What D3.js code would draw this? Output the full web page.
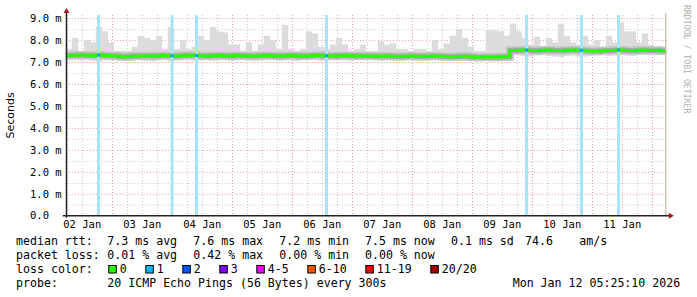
<!DOCTYPE html>
<html>
<head>
<meta charset="utf-8">
<script src="https://cdn.jsdelivr.net/npm/d3@7"></script>
<style>
  body { margin: 0; background: #fff; }
  text { font-family: "DejaVu Sans Mono", monospace; fill: #000; }
</style>
</head>
<body>
<div id="wrapper"></div>
<script>
// ---- data ----
const startTime = Date.UTC(2026, 0, 2, 5, 25, 10)
const endTime = Date.UTC(2026, 0, 12, 5, 25, 10)

// median rtt (ms), one value per 2.4h step
const medianRtt = [
  7.30,7.31,7.32,7.31,7.30,7.32,7.30,7.29,7.27,7.24,7.25,7.27,7.28,7.29,7.28,7.29,7.30,7.29,7.28,7.30,7.31,7.30,7.29,7.28,7.29,
  7.30,7.29,7.28,7.30,7.29,7.28,7.27,7.29,7.30,7.29,7.28,7.29,7.30,7.29,7.28,7.29,7.30,7.31,7.29,7.28,7.29,7.30,7.29,7.28,7.29,
  7.28,7.27,7.26,7.27,7.26,7.25,7.26,7.27,7.26,7.25,7.26,7.27,7.26,7.25,7.24,7.25,7.26,7.24,7.22,7.22,7.23,7.22,7.23,7.24,
  7.53,7.54,7.55,7.53,7.52,7.54,7.55,7.53,7.52,7.54,7.55,7.54,7.52,7.50,7.49,7.51,7.53,7.54,7.55,7.53,7.52,7.54,7.55,7.53,7.54,7.52
]
// top of the smoke (slowest ping), ms
const smokeHi = [
  7.6,8.1,7.5,8.0,7.9,8.6,8.4,7.9,7.5,7.5,7.5,7.7,8.2,8.1,8.0,8.2,7.6,8.6,7.6,8.0,7.6,7.7,8.2,8.0,8.6,
  8.4,8.35,7.8,7.8,7.5,7.9,7.5,7.8,8.2,8.0,7.6,8.7,7.6,7.5,7.6,8.4,8.3,7.7,7.6,7.8,8.1,7.8,7.5,7.6,7.8,
  7.5,7.5,7.95,7.8,7.85,7.6,7.6,7.5,7.6,7.6,7.5,8.0,7.6,7.85,8.2,8.5,8.1,7.7,7.5,7.5,8.45,8.45,8.4,8.2,
  8.75,8.4,8.1,7.8,8.15,7.7,8.1,7.9,8.75,8.2,7.9,7.8,8.2,7.8,8.0,7.7,8.2,7.9,8.8,8.4,8.4,7.9,8.3,7.8,7.7,7.7
]
// bottom of the smoke (fastest ping), ms
const smokeLo = [
  7.12,7.10,7.08,7.12,7.05,7.02,7.08,7.12,7.10,7.06,7.04,7.08,7.10,7.05,7.03,7.08,7.10,7.04,7.06,7.10,7.12,7.05,7.08,7.10,7.06,
  7.08,7.10,7.05,7.12,7.10,7.06,7.04,7.08,7.10,7.12,7.06,7.08,7.10,7.05,7.08,7.12,7.10,7.06,7.08,7.10,7.12,7.08,7.06,7.10,7.12,
  7.10,7.08,7.06,7.10,7.08,7.05,7.08,7.10,7.06,7.04,7.08,7.10,7.06,7.08,7.05,7.04,7.08,7.06,7.04,7.06,7.08,7.05,7.06,7.10,
  7.32,7.30,7.28,7.25,7.30,7.32,7.28,7.25,7.22,7.28,7.30,7.25,7.24,7.28,7.30,7.32,7.28,7.30,7.34,7.30,7.28,7.32,7.34,7.30,7.32,7.35
]
// moments with 1/20 packet loss
const lossTimes = [
  "2026-01-02T18:30Z","2026-01-03T23:55Z","2026-01-04T09:42Z","2026-01-06T13:42Z",
  "2026-01-09T21:42Z","2026-01-10T19:42Z","2026-01-11T10:30Z"
]

const yTicks = [0,1,2,3,4,5,6,7,8,9]
const rttLabel = "median rtt:"
const rttStats = ["7.3 ms avg","7.6 ms max","7.2 ms min","7.5 ms now","0.1 ms sd"]
const lossLabel = "packet loss:"
const lossStats = ["0.01 % avg","0.42 % max","0.00 % min","0.00 % now"]
const lossNames = ["0","1","2","3","4-5","6-10","11-19","20/20"]
const lossColors = ["#26ff00","#00b8ff","#0059ff","#7e00ff","#ff00ff","#ff5500","#ff0000","#a10000"]
const probeText = "20 ICMP Echo Pings (56 Bytes) every 300s"
const stampText = "Mon Jan 12 05:25:10 2026"

// ---- chart ----
const width = 697, height = 297
const plot = { left: 65.8, right: 665.8, top: 15, bottom: 215.7 }

const svg = d3.select("#wrapper").append("svg")
    .attr("width", width)
    .attr("height", height)

const xScale = d3.scaleUtc()
  .domain([startTime, endTime])
  .range([plot.left, plot.right])

const yScale = d3.scaleLinear()
  .domain([0, 9])
  .range([plot.bottom, plot.bottom - 9 * 21.95])

const stepMs = (endTime - startTime) / medianRtt.length
const binStart = i => new Date(startTime + i * stepMs)

// grid
const grid = svg.append("g")
const minorH = d3.range(0.5, 9.1, 0.5).filter(v => v % 1 !== 0)
grid.selectAll(".hmin").data(minorH).join("line")
    .attr("x1", plot.left).attr("x2", plot.right + 2)
    .attr("y1", d => yScale(d) + 0.5).attr("y2", d => yScale(d) + 0.5)
    .attr("stroke", "#c8c8c8").attr("stroke-dasharray", "1,2")
const hours = d3.utcHour.every(6).range(new Date(startTime), new Date(endTime))
grid.selectAll(".vmin").data(hours.filter(d => d.getUTCHours() !== 0)).join("line")
    .attr("x1", d => Math.round(xScale(d)) + 0.5).attr("x2", d => Math.round(xScale(d)) + 0.5)
    .attr("y1", plot.top).attr("y2", plot.bottom)
    .attr("stroke", "#c8c8c8").attr("stroke-dasharray", "1,2")
grid.selectAll(".hmaj").data(yTicks.slice(1)).join("line")
    .attr("x1", plot.left).attr("x2", plot.right + 2)
    .attr("y1", d => yScale(d) + 0.5).attr("y2", d => yScale(d) + 0.5)
    .attr("stroke", "#e59a9a").attr("stroke-dasharray", "1,2")
const days = d3.utcDay.range(new Date(startTime), new Date(endTime))
grid.selectAll(".vmaj").data(days).join("line")
    .attr("x1", d => Math.round(xScale(d)) + 0.5).attr("x2", d => Math.round(xScale(d)) + 0.5)
    .attr("y1", plot.top).attr("y2", plot.bottom)
    .attr("stroke", "#e59a9a").attr("stroke-dasharray", "1,2")

// smoke
svg.append("g").selectAll("rect").data(smokeHi).join("rect")
    .attr("x", (d, i) => xScale(binStart(i)))
    .attr("width", (d, i) => xScale(binStart(i + 1)) - xScale(binStart(i)) + 0.3)
    .attr("y", d => yScale(d))
    .attr("height", (d, i) => yScale(smokeLo[i]) - yScale(d))
    .attr("fill", "#dcdcdc")

const medianPts = medianRtt.map((v, i) => [binStart(i), v])
medianPts.push([new Date(endTime), medianRtt[medianRtt.length - 1]])
const line = d3.line()
    .x(d => xScale(d[0]))
    .y(d => yScale(d[1]))
    .curve(d3.curveStepAfter)

svg.append("path").attr("d", line(medianPts))
    .attr("fill", "none").attr("stroke", "#c6c6c6").attr("stroke-width", 8)
svg.append("path").attr("d", line(medianPts))
    .attr("fill", "none").attr("stroke", "#a8a8a8").attr("stroke-width", 5)

// loss bars
const lossDates = lossTimes.map(d => new Date(d))
svg.append("g").selectAll("rect").data(lossDates).join("rect")
    .attr("x", d => xScale(d) - 1.5)
    .attr("width", 3)
    .attr("y", plot.top)
    .attr("height", plot.bottom - plot.top)
    .attr("fill", "#a8e4f8")

// median line
svg.append("path").attr("d", line(medianPts))
    .attr("fill", "none").attr("stroke", lossColors[0]).attr("stroke-width", 3)

const medianAt = d => medianRtt[Math.min(medianRtt.length - 1, Math.floor((d - startTime) / stepMs))]
svg.append("g").selectAll("rect").data(lossDates).join("rect")
    .attr("x", d => xScale(d) - 1.5)
    .attr("width", 3)
    .attr("y", d => yScale(medianAt(d)) - 1.5)
    .attr("height", 3)
    .attr("fill", "#1a9cff")

// "now" rule
svg.append("line")
    .attr("x1", plot.right).attr("x2", plot.right)
    .attr("y1", plot.top - 2).attr("y2", plot.bottom)
    .attr("stroke", "#b8b088")

// axes
svg.append("line")
    .attr("x1", plot.left - 3).attr("x2", plot.right + 4)
    .attr("y1", plot.bottom).attr("y2", plot.bottom)
    .attr("stroke", "#222").attr("stroke-width", 1.5)
svg.append("line")
    .attr("x1", plot.left + 0.7).attr("x2", plot.left + 0.7)
    .attr("y1", plot.bottom + 2).attr("y2", 12)
    .attr("stroke", "#222").attr("stroke-width", 1.5)
svg.append("path")
    .attr("d", `M${plot.right + 3},${plot.bottom - 3}L${plot.right + 8},${plot.bottom}L${plot.right + 3},${plot.bottom + 3}Z`)
    .attr("fill", "#a01818")
svg.append("path")
    .attr("d", `M${plot.left - 2.3},13L${plot.left + 0.7},8L${plot.left + 3.7},13Z`)
    .attr("fill", "#a01818")

// y tick labels
svg.append("g").selectAll("text").data(yTicks).join("text")
    .attr("x", 30)
    .attr("y", d => yScale(d))
    .attr("dy", "0.36em")
    .style("font-size", "10.5px")
    .text(d => d === 0 ? "0.0" : d3.format(".1f")(d) + " m")

// x tick labels at noon
const noons = days.map(d => d3.utcHour.offset(d, -12)).concat([d3.utcHour.offset(days[days.length - 1], 12)])
svg.append("g").selectAll("text").data(noons.filter(d => d > startTime && d < endTime)).join("text")
    .attr("x", d => xScale(d))
    .attr("y", 228)
    .attr("text-anchor", "middle")
    .style("font-size", "10.5px")
    .text(d3.utcFormat("%d %b"))

// axis title
svg.append("text")
    .attr("transform", `translate(14, ${(plot.top + plot.bottom) / 2}) rotate(-90)`)
    .attr("text-anchor", "middle")
    .style("font-family", "DejaVu Sans")
    .style("font-size", "11px")
    .text("Seconds")

// watermark
svg.append("text")
    .attr("transform", "translate(684, 5) rotate(90)")
    .style("font-size", "8.2px")
    .style("fill", "#b0b0b0")
    .text("RRDTOOL / TOBI OETIKER")

// legend
const legend = svg.append("g").style("font-size", "11.6px")
const colX = [107.3, 193.3, 279.3, 365, 451]
const rows = [244.8, 259.3, 272.8, 287.3]

legend.append("text").attr("x", 16).attr("y", rows[0]).text(rttLabel)
rttStats.forEach((s, i) => legend.append("text").attr("x", colX[i]).attr("y", rows[0]).text(s))
legend.append("text").attr("x", 525).attr("y", rows[0]).text("74.6")
legend.append("text").attr("x", 579.3).attr("y", rows[0]).text("am/s")

legend.append("text").attr("x", 16).attr("y", rows[1]).text(lossLabel)
lossStats.forEach((s, i) => legend.append("text").attr("x", colX[i]).attr("y", rows[1]).text(s))

legend.append("text").attr("x", 16).attr("y", rows[2]).text("loss color:")
let lx = 108.3
lossNames.forEach((name, i) => {
  legend.append("rect")
      .attr("x", lx + 0.5).attr("y", 265.5)
      .attr("width", 7.5).attr("height", 7.5)
      .attr("fill", lossColors[i]).attr("stroke", "#000")
  legend.append("text").attr("x", lx + 11.5).attr("y", rows[2]).text(name)
  lx += 11.5 + name.length * 7 + 18.5
})

legend.append("text").attr("x", 16).attr("y", rows[3]).text("probe:")
legend.append("text").attr("x", 107.3).attr("y", rows[3]).text(probeText)
legend.append("text").attr("x", 512.7).attr("y", rows[3]).text(stampText)
</script>
</body>
</html>
